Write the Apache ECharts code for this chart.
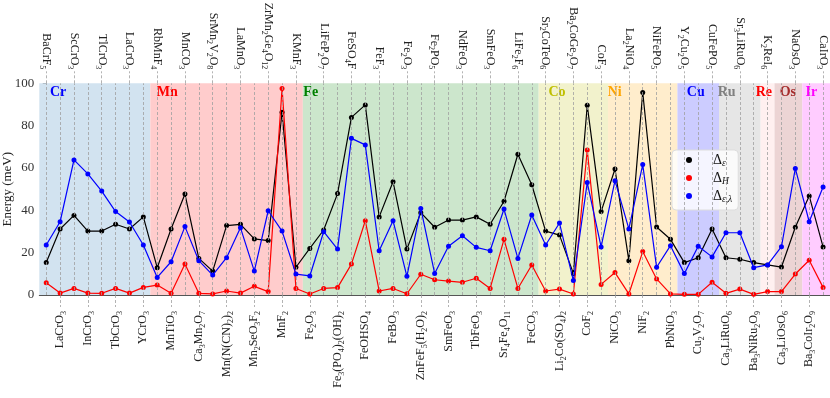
<!DOCTYPE html>
<html>
<head>
<meta charset="utf-8">
<script src="https://cdn.jsdelivr.net/npm/echarts@6/dist/echarts.min.js"></script>
<style>html,body{margin:0;padding:0;background:#fff}#c{width:830px;height:398px}</style>
</head>
<body>
<div id="c"></div>
<script>
// ---------------- DATA ----------------
const categories = [
  'BaCrF_{5}','LaCrO_{3}','ScCrO_{3}','InCrO_{3}','TlCrO_{3}','TbCrO_{3}','LaCrO_{3}','YCrO_{3}',
  'RbMnF_{4}','MnTiO_{3}','MnCO_{3}','Ca_{3}Mn_{2}O_{7}','SrMn_{2}V_{2}O_{8}','Mn(N(CN)_{2})_{2}','LaMnO_{3}',
  'Mn_{2}SeO_{3}F_{2}','ZrMn_{2}Ge_{4}O_{12}','MnF_{2}','KMnF_{3}',
  'Fe_{2}O_{3}','LiFeP_{2}O_{7}','Fe_{3}(PO_{4})_{2}(OH)_{2}','FeSO_{4}F','FeOHSO_{4}','FeF_{3}','FeBO_{3}',
  'Fe_{2}O_{3}','ZnFeF_{5}(H_{2}O)_{2}','Fe_{2}PO_{5}','SmFeO_{3}','NdFeO_{3}','TbFeO_{3}','SmFeO_{3}',
  'Sr_{4}Fe_{4}O_{11}','LiFe_{2}F_{6}','FeCO_{3}',
  'Sr_{2}CoTeO_{6}','Li_{2}Co(SO_{4})_{2}','Ba_{2}CoGe_{2}O_{7}','CoF_{2}','CoF_{3}',
  'NiCO_{3}','La_{2}NiO_{4}','NiF_{2}','NiFePO_{5}','PbNiO_{3}',
  'Y_{2}Cu_{2}O_{5}','Cu_{2}V_{2}O_{7}','CuFePO_{5}',
  'Ca_{3}LiRuO_{6}','Sr_{3}LiRuO_{6}','Ba_{3}NiRu_{2}O_{9}',
  'K_{2}ReI_{6}',
  'Ca_{3}LiOsO_{6}','NaOsO_{3}',
  'Ba_{3}CoIr_{2}O_{9}','CaIrO_{3}'
];
// Delta_epsilon (black)
const deltaE = [
  15.4,31.2,37.6,30.2,30.2,33.4,31.2,36.9,
  12.9,31.2,47.7,17.3,11.3,32.8,33.4,26.5,25.7,86.3,13.1,
  22.0,30.7,47.9,83.9,89.8,36.9,53.5,21.7,38.9,32.0,35.4,35.4,36.9,33.4,44.3,66.5,52.1,
  30.2,28.3,10.2,89.6,39.4,
  59.5,16.2,95.7,32.1,26.3,
  15.3,17.6,31.2,
  17.6,16.9,15.3,
  14.2,
  13.2,32.0,
  46.8,22.7
];
// Delta_H (red)
const deltaH = [
  5.8,0.9,3.1,0.9,0.8,3.1,0.9,3.6,
  4.7,0.8,14.6,0.8,0.5,1.9,0.9,4.1,1.6,97.6,3.1,
  0.5,3.1,3.5,14.6,35.1,1.9,3.1,0.6,9.8,7.2,6.6,6.0,7.9,3.1,26.3,3.1,14.2,
  1.9,2.8,0.5,68.5,5.0,
  10.6,0.5,20.5,7.6,0.5,
  0.3,0.3,6.0,
  0.8,2.8,0.3,
  1.6,
  1.6,9.9,
  16.4,3.6
];
// Delta_epsilon,lambda (blue)
const deltaEL = [
  23.6,34.6,63.8,57.2,49.1,39.4,34.5,23.6,
  8.3,15.7,32.3,16.2,9.4,17.6,31.8,11.3,39.8,30.2,9.9,
  9.0,29.9,21.7,74.0,70.9,20.9,35.1,8.8,40.9,10.2,23.0,28.0,22.5,20.9,40.6,17.3,37.8,
  23.6,34.0,6.8,53.1,22.7,
  54.0,31.2,61.6,13.1,23.3,
  10.1,23.0,18.0,
  29.4,29.4,12.9,
  14.2,
  22.8,59.8,
  34.6,51.0
];
const seriesNames = ['Δ_{ε}', 'Δ_{H}', 'Δ_{ε,λ}'];
const yTicks = [0, 20, 40, 60, 80, 100];
const groups     = ['Cr','Mn','Fe','Co','Ni','Cu','Ru','Re','Os','Ir'];
const groupStart = [0, 8, 19, 36, 41, 46, 49, 52, 53, 55];
const groupEnd   = [7, 18, 35, 40, 45, 48, 51, 52, 54, 56];

// ---------------- STYLE ----------------
const groupFill  = ['#d2e3f0','#ffcccc','#cce6cc','#f2f2cc','#ffedcc','#ccccff','#e6e6e6','#fff0f0','#ecd4d4','#ffccff'];
const groupColor = ['#0000ff','#ff0000','#008000','#bfbf00','#ffa500','#0000ff','#808080','#ff0000','#a52a2a','#ff00ff'];
const groupLabelDx = [5.7, 1.4, -4.5, 4.7, -5.3, 4.4, -6.3, -9.9, 0.2, -1.8];
const lineColors = ['#000000', '#ff0000', '#0000ff'];
const FONT = 'Liberation Serif';

function toRich(s) {
  return ('{n|' + s.replace(/_\{([^}]*)\}/g, '}{s|$1}{n|') + '}').replace(/\{n\|\}/g, '');
}
const labelRich = {
  n: { fontFamily: FONT, fontSize: 12, lineHeight: 16, color: '#222' },
  s: { fontFamily: FONT, fontSize: 8, lineHeight: 9, verticalAlign: 'bottom', color: '#222' }
};
const legendRich = {
  n: { fontFamily: FONT, fontSize: 14, lineHeight: 16, color: '#111' },
  s: { fontFamily: FONT, fontSize: 9.5, lineHeight: 9, verticalAlign: 'bottom', fontStyle: 'italic', color: '#111' }
};
const tickDash = { color: '#a0a0a0', type: [3, 2], width: 0.8 };

function catAxis(position, parity) {
  const sel = (i) => i % 2 === parity;
  return {
    type: 'category',
    position: position,
    data: categories,
    boundaryGap: true,
    axisLine: { show: position === 'bottom', lineStyle: { color: '#555', width: 1 } },
    axisTick: { show: true, alignWithLabel: true, interval: sel, length: 12, lineStyle: tickDash },
    axisLabel: {
      interval: sel, rotate: 90, margin: position === 'bottom' ? 16 : 14,
      formatter: (v) => toRich(v), rich: labelRich
    },
    splitLine: { show: false }
  };
}

const chart = echarts.init(document.getElementById('c'), null, { renderer: 'canvas' });
const option = {
  animation: false,
  backgroundColor: '#ffffff',
  grid: { left: 39.3, right: 0, top: 83.3, bottom: 103, containLabel: false, outerBoundsMode: 'none' },
  legend: {
    data: seriesNames,
    orient: 'vertical',
    left: 672, top: 150,
    icon: 'circle', itemWidth: 6, itemHeight: 6, itemGap: 3,
    padding: [3, 6, 6, 14],
    backgroundColor: 'rgba(255,255,255,0.8)',
    borderColor: '#dddddd', borderWidth: 1, borderRadius: 4,
    formatter: (name) => toRich(name),
    textStyle: { padding: [0, 0, 0, 16], rich: legendRich }
  },
  xAxis: [
    catAxis('bottom', 1),
    catAxis('top', 0),
    { type: 'value', min: -0.5, max: categories.length - 0.5, show: false }
  ],
  yAxis: {
    type: 'value', min: yTicks[0], max: yTicks[yTicks.length - 1], interval: yTicks[1] - yTicks[0],
    name: 'Energy (meV)', nameLocation: 'middle', nameGap: 25, nameMoveOverlap: false,
    nameTextStyle: { fontFamily: FONT, fontSize: 13, color: '#222' },
    axisLine: { show: true, lineStyle: { color: '#555', width: 1 } },
    axisTick: { show: true, length: 3.5, lineStyle: { color: '#555' } },
    axisLabel: { fontFamily: FONT, fontSize: 13, color: '#333', margin: 5 },
    splitLine: { show: false }
  },
  series: [
    {
      type: 'line', xAxisIndex: 2, data: [], silent: true, z: 1,
      markArea: {
        silent: true,
        label: { show: true, position: 'insideTopLeft', fontFamily: FONT, fontWeight: 'bold', fontSize: 14 },
        data: groups.map((g, k) => [
          { name: g, xAxis: groupStart[k] - 0.5, itemStyle: { color: groupFill[k] },
            label: { color: groupColor[k], offset: [groupLabelDx[k], -3] } },
          { xAxis: groupEnd[k] + 0.5 }
        ])
      }
    },
    {
      type: 'line', xAxisIndex: 2, data: [], silent: true, z: 2,
      markLine: {
        silent: true, symbol: ['none', 'none'], animation: false,
        label: { show: false },
        lineStyle: tickDash,
        data: categories.map((c, i) => ({ xAxis: i }))
      }
    }
  ].concat([deltaE, deltaH, deltaEL].map((d, k) => ({
    type: 'line', name: seriesNames[k], data: d, xAxisIndex: 0, z: 3 + k,
    symbol: 'circle', symbolSize: 5, showAllSymbol: true,
    lineStyle: { color: lineColors[k], width: 1.2 },
    itemStyle: { color: lineColors[k] }
  })))
};
chart.setOption(option);
</script>
</body>
</html>
